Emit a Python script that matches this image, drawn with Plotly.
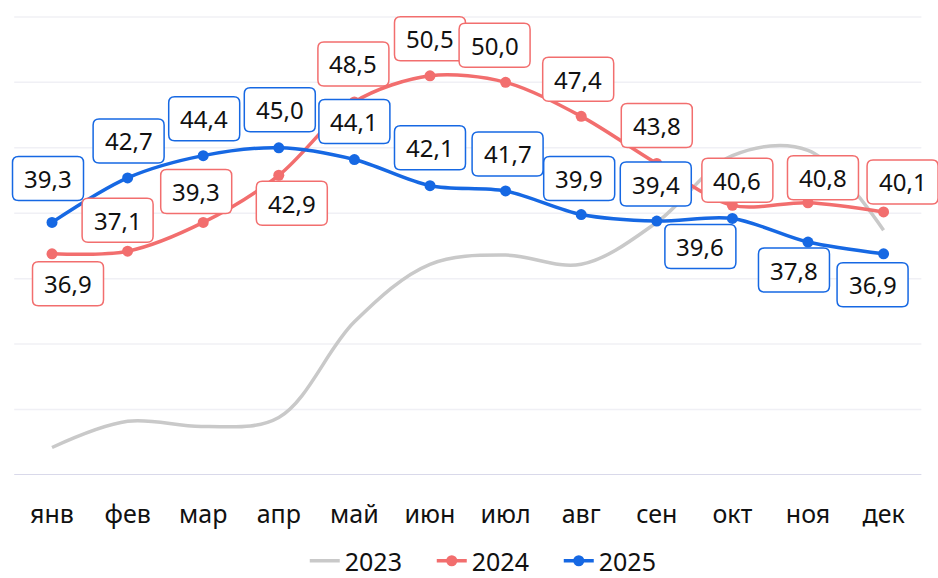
import plotly.graph_objects as go

# Monthly values by year
months = ["янв", "фев", "мар", "апр", "май", "июн", "июл", "авг", "сен", "окт", "ноя", "дек"]
values_2023 = [22.1, 24.1, 23.7, 24.4, 31.7, 36.1, 36.8, 36.1, 39.3, 44.4, 44.8, 38.7]
values_2024 = [36.9, 37.1, 39.3, 42.9, 48.5, 50.5, 50.0, 47.4, 43.8, 40.6, 40.8, 40.1]
values_2025 = [39.3, 42.7, 44.4, 45.0, 44.1, 42.1, 41.7, 39.9, 39.4, 39.6, 37.8, 36.9]
grid_levels = [25, 30, 35, 40, 45, 50, 55]
y_base = 20

# Pixel offsets of each value box from its point (right / down positive)
offsets_2024 = [(16, 30), (-10, -31), (-7, -31), (13, 28), (-1, -38), (0, -37),
                (-11, -37), (-3, -37), (0, -38), (5, -25), (15, -25), (19, -30)]
offsets_2025 = [(-4, -44), (1, -37), (1, -37), (1, -38), (0, -38), (0, -38),
                (2, -37), (-2, -36), (-1, -37), (-32, 28), (-14, 28), (-11, 31)]

FONT = "Noto Sans"
C2023 = "#c9c9c9"
C2024 = "#f26e6e"
C2025 = "#1668e3"
BOX_W, BOX_H, BOX_R = 71, 44, 6

fig = go.Figure()
fig.add_trace(go.Scatter(
    x=months, y=values_2023, name="2023", mode="lines",
    line=dict(color=C2023, width=3.5, shape="spline", smoothing=1.0),
))
fig.add_trace(go.Scatter(
    x=months, y=values_2024, name="2024", mode="lines+markers",
    line=dict(color=C2024, width=3.5, shape="spline", smoothing=0.9),
    marker=dict(color=C2024, size=11),
))
fig.add_trace(go.Scatter(
    x=months, y=values_2025, name="2025", mode="lines+markers",
    line=dict(color=C2025, width=3.5, shape="spline", smoothing=0.9),
    marker=dict(color=C2025, size=11),
))


def fmt(v):
    return f"{v:.1f}".replace(".", ",")


def rounded_box(cx, cy, w, h, r):
    """SVG path of a rounded rectangle, in pixels around an anchor point."""
    x0, x1 = cx - w / 2, cx + w / 2
    y0, y1 = cy - h / 2, cy + h / 2
    return (f"M{x0 + r},{y0} L{x1 - r},{y0} Q{x1},{y0} {x1},{y0 + r} "
            f"L{x1},{y1 - r} Q{x1},{y1} {x1 - r},{y1} L{x0 + r},{y1} "
            f"Q{x0},{y1} {x0},{y1 - r} L{x0},{y0 + r} Q{x0},{y0} {x0 + r},{y0} Z")


# Horizontal grid and the base line, spanning the category band only
shapes = [dict(
    type="line", xref="x", yref="y", x0=-0.5, x1=len(months) - 0.5, y0=g, y1=g,
    line=dict(color="#f0f0f5", width=1.5), layer="below",
) for g in grid_levels]
shapes.append(dict(
    type="line", xref="x", yref="y", x0=-0.5, x1=len(months) - 0.5,
    y0=y_base, y1=y_base, line=dict(color="#d9d9ea", width=2), layer="below",
))

annotations = []
for vals, offs, col in ((values_2024, offsets_2024, C2024), (values_2025, offsets_2025, C2025)):
    for i, (v, (dx, dy)) in enumerate(zip(vals, offs)):
        shapes.append(dict(
            type="path", xref="x", yref="y",
            xsizemode="pixel", ysizemode="pixel", xanchor=i, yanchor=v,
            path=rounded_box(dx, -dy, BOX_W, BOX_H, BOX_R),
            fillcolor="white", line=dict(color=col, width=1.5), layer="above",
        ))
        annotations.append(dict(
            x=i, y=v, xref="x", yref="y", text=fmt(v), showarrow=False,
            xshift=dx, yshift=-dy,
            font=dict(family=FONT, size=24, color="#111111"),
            align="center", valign="middle",
        ))

fig.update_layout(
    width=938, height=578,
    margin=dict(l=0, r=0, t=0, b=103, autoexpand=False),
    paper_bgcolor="white", plot_bgcolor="white",
    font=dict(family=FONT, size=25, color="#111111"),
    showlegend=True,
    legend=dict(
        orientation="h", x=0.528, xanchor="center",
        yref="container", y=17 / 578, yanchor="middle",
        font=dict(family=FONT, size=25, color="#111111"),
        itemclick=False, tracegroupgap=0, itemwidth=30,
        entrywidth=82, entrywidthmode="pixels",
    ),
    annotations=annotations,
    shapes=shapes,
    xaxis=dict(
        type="category", categoryorder="array", categoryarray=months,
        range=[-0.688, 11.72], showgrid=False, zeroline=False,
        showline=False, ticks="", ticklabelstandoff=22,
        tickfont=dict(family=FONT, size=25, color="#111111"),
        fixedrange=True,
    ),
    yaxis=dict(
        range=[y_base, 56.29], showticklabels=False,
        showgrid=False, zeroline=False, showline=False, fixedrange=True,
    ),
)

fig.write_html("out.html")
